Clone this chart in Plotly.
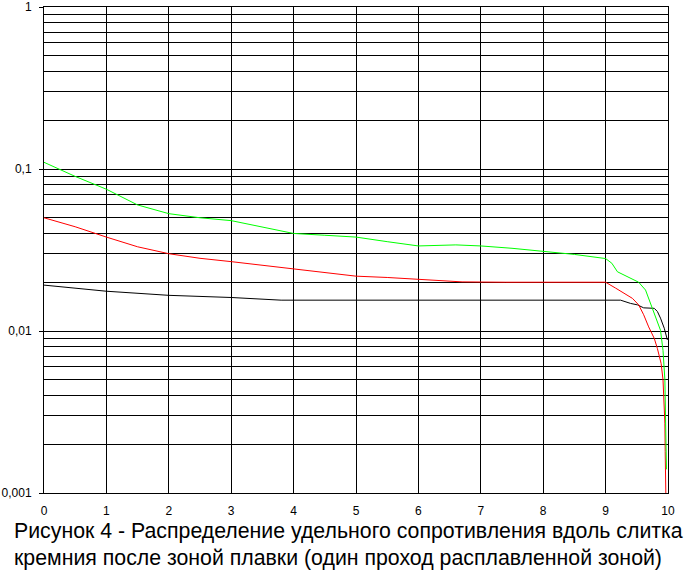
import plotly.graph_objects as go

# curves (x - position along the ingot, y - resistivity)
green_x = [0, 0.5, 1, 1.5, 2, 2.5, 3, 3.5, 4, 4.5, 5, 5.5, 6, 6.6, 7, 7.5, 8, 8.5, 9,
           9.1, 9.19, 9.35, 9.53, 9.64, 9.72, 9.8, 9.88, 9.92, 9.95, 9.96, 9.97, 9.975]
green_y = [0.110, 0.090, 0.075, 0.060, 0.053, 0.050, 0.048, 0.044, 0.040, 0.039, 0.038,
           0.0356, 0.0335, 0.034, 0.0335, 0.0324, 0.031, 0.0297, 0.028,
           0.0262, 0.0232, 0.0216, 0.020, 0.0179, 0.0148, 0.0123, 0.0101, 0.0076,
           0.005, 0.003, 0.0019, 0.0014]

red_x = [0, 0.5, 1, 1.5, 2, 2.5, 3, 3.5, 4, 4.5, 5, 5.5, 6, 6.7, 7.4, 9,
         9.16, 9.29, 9.43, 9.53, 9.61, 9.69, 9.78, 9.83, 9.89, 9.92, 9.94, 9.95, 9.955, 9.965]
red_y = [0.050, 0.044, 0.038, 0.0331, 0.030, 0.0281, 0.0268, 0.0255, 0.0241, 0.0229,
         0.0218, 0.0214, 0.0209, 0.0201, 0.020, 0.020,
         0.0184, 0.0171, 0.0159, 0.0145, 0.0126, 0.0106, 0.0090, 0.0078, 0.0063,
         0.005, 0.0034, 0.0027, 0.0018, 0.001]

black_x = [0, 0.5, 1, 2, 3, 3.8, 9.24, 9.4, 9.51, 9.61, 9.78, 9.83, 9.88, 9.94, 9.99]
black_y = [0.0192, 0.0183, 0.0176, 0.0166, 0.0161, 0.0155, 0.0155, 0.0148, 0.0145,
           0.0139, 0.0138, 0.0132, 0.012, 0.0104, 0.0088]

y_ticks = [0.001, 0.01, 0.1, 1]
y_labels = ["0,001", "0,01", "0,1", "1"]
y_minor = [m * 10 ** e for e in (-3, -2, -1) for m in range(2, 10)]

caption1 = "Рисунок 4 - Распределение удельного сопротивления вдоль слитка"
caption2 = "кремния после зоной плавки (один проход расплавленной зоной)"

fig = go.Figure()
fig.add_trace(go.Scatter(x=black_x, y=black_y, mode="lines", line=dict(color="black", width=1)))
fig.add_trace(go.Scatter(x=red_x, y=red_y, mode="lines", line=dict(color="#ff0000", width=1)))
fig.add_trace(go.Scatter(x=green_x, y=green_y, mode="lines", line=dict(color="#00ff00", width=1)))

fig.update_layout(
    width=692, height=576,
    margin=dict(l=44, r=24, t=7, b=83),
    paper_bgcolor="white", plot_bgcolor="white",
    showlegend=False,
    font=dict(family="Liberation Sans, Arial", size=12, color="black"),
)
fig.update_xaxes(
    range=[0, 10], dtick=1, tick0=0, automargin=False,
    showgrid=True, gridcolor="black", gridwidth=1,
    showline=True, mirror=True, linecolor="black", linewidth=1,
    zeroline=False, ticks="", ticklabelstandoff=7,
)
fig.update_yaxes(
    type="log", range=[-3, 0], automargin=False,
    tickvals=y_ticks, ticktext=y_labels,
    showgrid=True, gridcolor="black", gridwidth=1,
    showline=True, mirror=True, linecolor="black", linewidth=1,
    ticks="outside", ticklen=4, tickcolor="black", ticklabelstandoff=5,
    minor=dict(tickvals=y_minor, showgrid=True, gridcolor="black", gridwidth=1, ticks=""),
)

fig.add_annotation(text=caption1, xref="paper", yref="paper", x=-0.051, y=-0.078,
                   xanchor="left", yanchor="middle", showarrow=False,
                   font=dict(size=21.3, color="black"))
fig.add_annotation(text=caption2, xref="paper", yref="paper", x=-0.051, y=-0.134,
                   xanchor="left", yanchor="middle", showarrow=False,
                   font=dict(size=21.3, color="black"))

# drop the default 8px body margin so the figure fills the window
fig.write_html("out.html", config={"displayModeBar": False},
               post_script="document.body.style.margin = '0';")
